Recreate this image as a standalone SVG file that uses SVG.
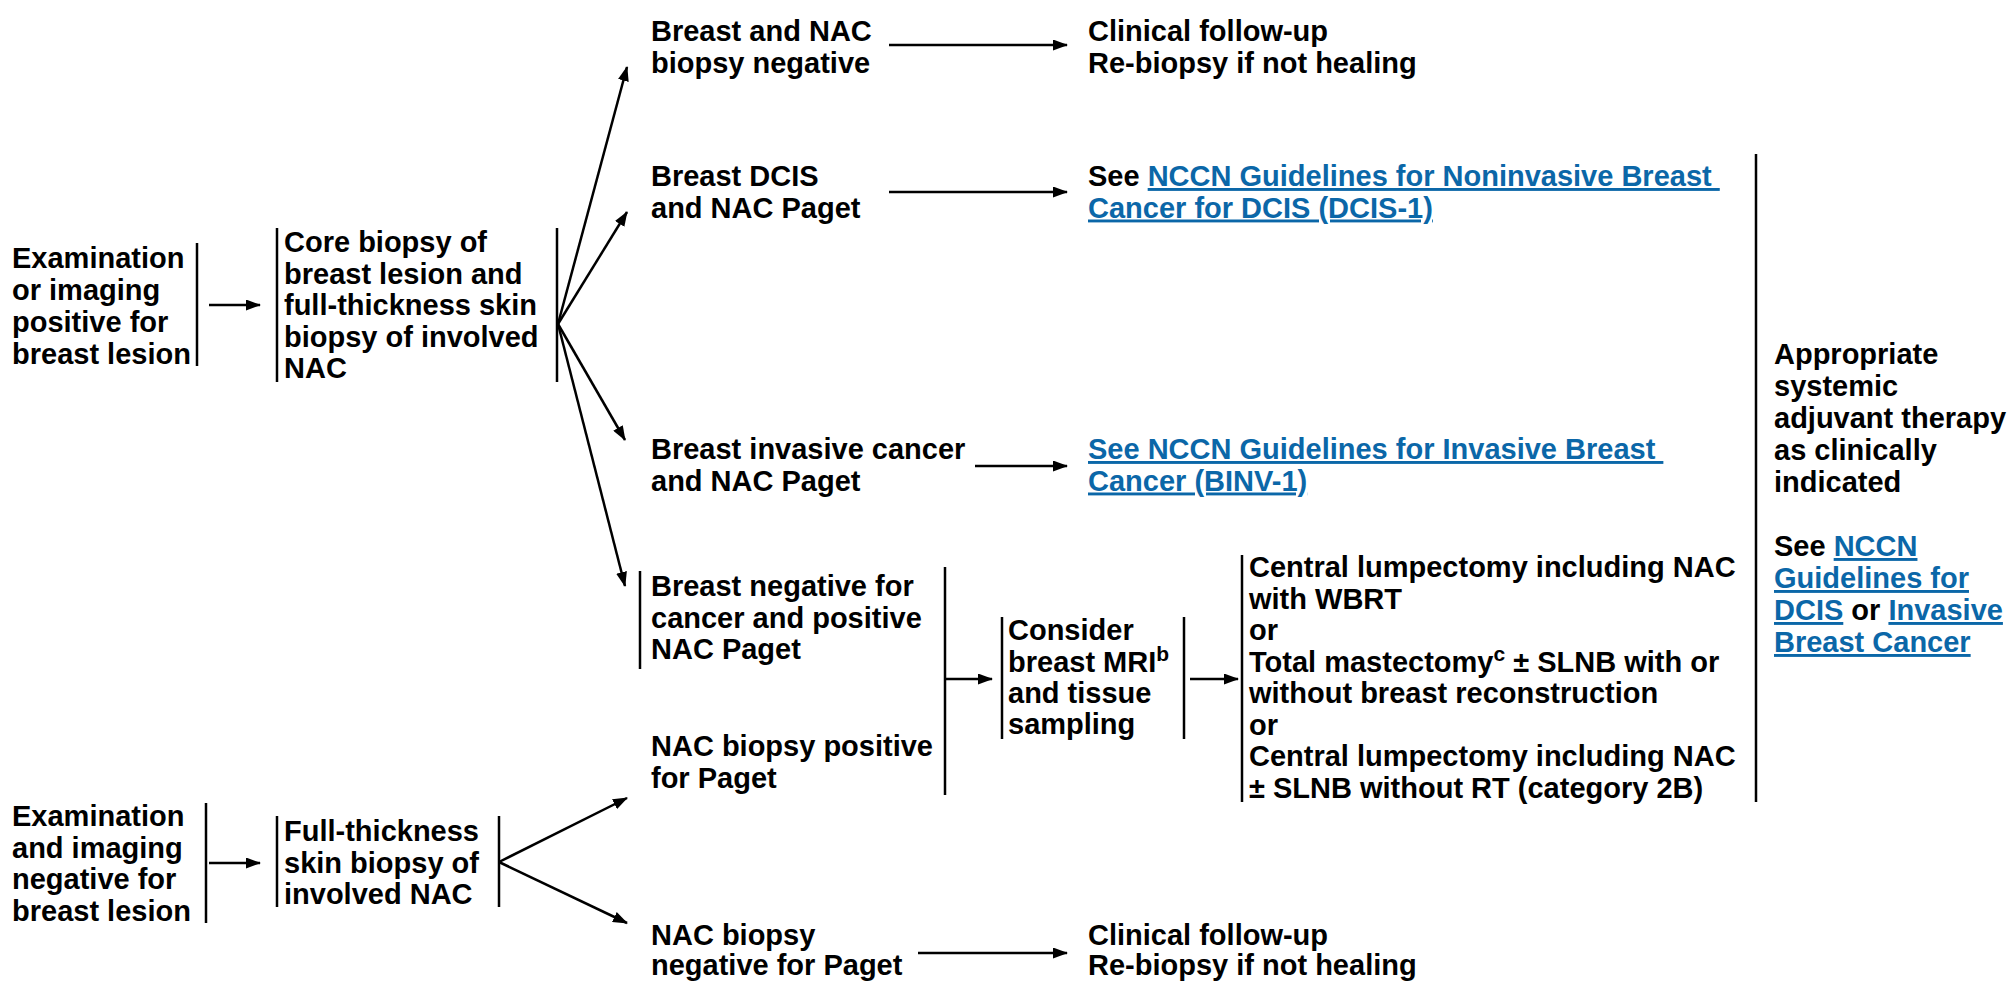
<svg xmlns="http://www.w3.org/2000/svg" width="2011" height="982" viewBox="0 0 2011 982">
<style>
text{font-family:"Liberation Sans",Arial,sans-serif;font-weight:bold;font-size:29px;fill:#000}
.lk{fill:#0B67A8;text-decoration:underline}
.sup{font-size:21px}
.bar{stroke:#000;stroke-width:2.5;fill:none}
.c{stroke:#000;stroke-width:2.5;fill:none;marker-end:url(#ah)}
</style>
<defs>
<marker id="ah" viewBox="0 0 15 11" refX="14" refY="5.5" markerWidth="15" markerHeight="11" markerUnits="userSpaceOnUse" orient="auto">
<path d="M0,0 L15,5.5 L0,11 z" fill="#000"/>
</marker>
</defs>
<rect width="2011" height="982" fill="#fff"/>

<g id="n-exam-pos">
<text x="12" y="268">Examination</text>
<text x="12" y="300">or imaging</text>
<text x="12" y="332">positive for</text>
<text x="12" y="364">breast lesion</text>
<line class="bar" x1="197" y1="243" x2="197" y2="366"/>
</g>

<g id="n-core">
<line class="bar" x1="277" y1="228" x2="277" y2="382"/>
<text x="284" y="252">Core biopsy of</text>
<text x="284" y="283.5">breast lesion and</text>
<text x="284" y="315">full-thickness skin</text>
<text x="284" y="346.5">biopsy of involved</text>
<text x="284" y="378">NAC</text>
<line class="bar" x1="557" y1="228" x2="557" y2="382"/>
</g>

<g id="n-neg">
<text x="651" y="41">Breast and NAC</text>
<text x="651" y="72.5">biopsy negative</text>
</g>
<g id="n-fu1">
<text x="1088" y="41">Clinical follow-up</text>
<text x="1088" y="72.5">Re-biopsy if not healing</text>
</g>

<g id="n-dcis">
<text x="651" y="186">Breast DCIS</text>
<text x="651" y="217.5">and NAC Paget</text>
</g>
<g id="n-dcis-link">
<text x="1088" y="186" xml:space="preserve">See <tspan class="lk">NCCN Guidelines for Noninvasive Breast </tspan></text>
<text x="1088" y="217.5" class="lk">Cancer for DCIS (DCIS-1)</text>
</g>

<g id="n-inv">
<text x="651" y="459">Breast invasive cancer</text>
<text x="651" y="490.5">and NAC Paget</text>
</g>
<g id="n-inv-link">
<text x="1088" y="459" class="lk" xml:space="preserve">See NCCN Guidelines for Invasive Breast </text>
<text x="1088" y="490.5" class="lk">Cancer (BINV-1)</text>
</g>

<g id="n-paget">
<line class="bar" x1="640" y1="571" x2="640" y2="669"/>
<text x="651" y="596">Breast negative for</text>
<text x="651" y="627.5">cancer and positive</text>
<text x="651" y="659">NAC Paget</text>
<text x="651" y="756">NAC biopsy positive</text>
<text x="651" y="787.5">for Paget</text>
<line class="bar" x1="945" y1="567" x2="945" y2="795"/>
</g>

<g id="n-mri">
<line class="bar" x1="1002" y1="617" x2="1002" y2="739"/>
<text x="1008" y="640">Consider</text>
<text x="1008" y="672">breast MRI<tspan class="sup" dy="-11">b</tspan></text>
<text x="1008" y="703">and tissue</text>
<text x="1008" y="734">sampling</text>
<line class="bar" x1="1184" y1="617" x2="1184" y2="739"/>
</g>

<g id="n-options">
<line class="bar" x1="1242" y1="555" x2="1242" y2="802"/>
<text x="1249" y="577">Central lumpectomy including NAC</text>
<text x="1249" y="608.5">with WBRT</text>
<text x="1249" y="640">or</text>
<text x="1249" y="671.5">Total mastectomy<tspan class="sup" dy="-11">c</tspan><tspan dy="11"> ± SLNB with or</tspan></text>
<text x="1249" y="703">without breast reconstruction</text>
<text x="1249" y="734.5">or</text>
<text x="1249" y="766">Central lumpectomy including NAC</text>
<text x="1249" y="797.5">± SLNB without RT (category 2B)</text>
</g>

<g id="n-adjuvant">
<line class="bar" x1="1756" y1="154" x2="1756" y2="802"/>
<text x="1774" y="364">Appropriate</text>
<text x="1774" y="396">systemic</text>
<text x="1774" y="428">adjuvant therapy</text>
<text x="1774" y="460">as clinically</text>
<text x="1774" y="492">indicated</text>
<text x="1774" y="556">See <tspan class="lk">NCCN</tspan></text>
<text x="1774" y="588" class="lk">Guidelines for</text>
<text x="1774" y="620"><tspan class="lk">DCIS</tspan> or <tspan class="lk">Invasive</tspan></text>
<text x="1774" y="652" class="lk">Breast Cancer</text>
</g>

<g id="n-exam-neg">
<text x="12" y="826">Examination</text>
<text x="12" y="858">and imaging</text>
<text x="12" y="889">negative for</text>
<text x="12" y="921">breast lesion</text>
<line class="bar" x1="206" y1="803" x2="206" y2="923"/>
</g>

<g id="n-fullthick">
<line class="bar" x1="277" y1="816" x2="277" y2="907"/>
<text x="284" y="841">Full-thickness</text>
<text x="284" y="872.5">skin biopsy of</text>
<text x="284" y="904">involved NAC</text>
<line class="bar" x1="499" y1="816" x2="499" y2="907"/>
</g>

<g id="n-negpaget">
<text x="651" y="945">NAC biopsy</text>
<text x="651" y="975">negative for Paget</text>
</g>
<g id="n-fu2">
<text x="1088" y="945">Clinical follow-up</text>
<text x="1088" y="975">Re-biopsy if not healing</text>
</g>

<g id="connectors">
<line class="c" x1="209" y1="305" x2="260" y2="305"/>
<line class="c" x1="558" y1="324" x2="627" y2="67"/>
<line class="c" x1="558" y1="324" x2="627" y2="212"/>
<line class="c" x1="558" y1="324" x2="625" y2="440"/>
<line class="c" x1="558" y1="324" x2="625" y2="586"/>
<line class="c" x1="889" y1="45" x2="1067" y2="45"/>
<line class="c" x1="889" y1="192" x2="1067" y2="192"/>
<line class="c" x1="975" y1="466" x2="1067" y2="466"/>
<line class="c" x1="945" y1="679" x2="992" y2="679"/>
<line class="c" x1="1190" y1="679" x2="1238" y2="679"/>
<line class="c" x1="209" y1="863" x2="260" y2="863"/>
<line class="c" x1="499" y1="862" x2="627" y2="798"/>
<line class="c" x1="499" y1="862" x2="627" y2="923"/>
<line class="c" x1="918" y1="953" x2="1067" y2="953"/>
</g>
</svg>
